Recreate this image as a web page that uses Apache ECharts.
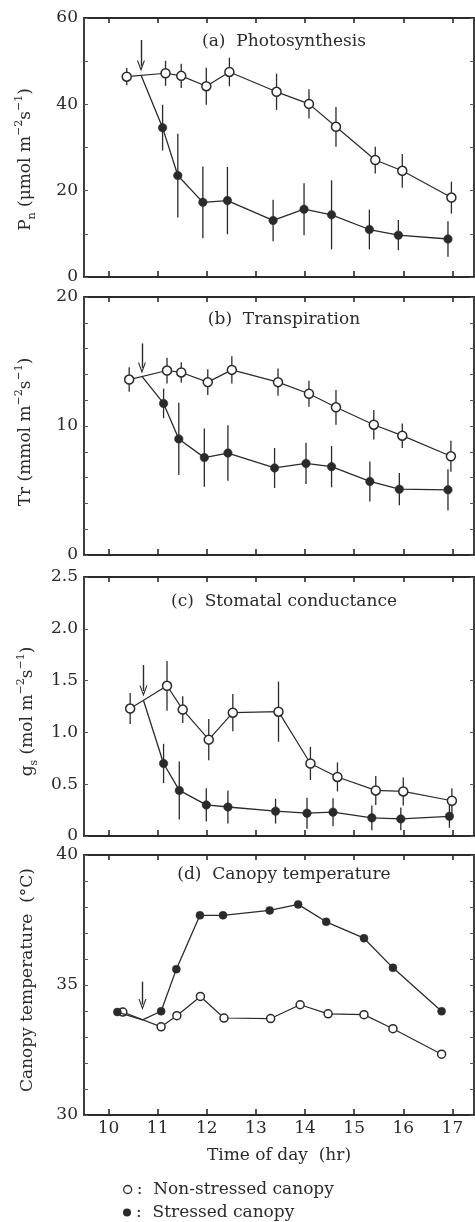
<!DOCTYPE html>
<html><head><meta charset="utf-8">
<script src="https://cdn.jsdelivr.net/npm/echarts@6/dist/echarts.min.js"></script>
<style>html,body{margin:0;padding:0;background:#fff}#c{width:475px;height:1222px}</style>
</head><body><div id="c"></div>
<script>
// ---------- data ----------
const xTicks = [10, 11, 12, 13, 14, 15, 16, 17];
const xLabels = [10, 11, 12, 13, 14, 15, 16, 17];

// (a) Photosynthesis
const nsXa = [10.37, 11.16, 11.48, 11.99, 12.46, 13.42, 14.08, 14.63, 15.43, 15.98, 16.98];
const nsYa = [46.4, 47.2, 46.6, 44.2, 47.5, 42.9, 40.1, 34.8, 27.1, 24.6, 18.4];
const nsEa = [2.0, 2.9, 2.8, 4.3, 3.3, 4.2, 3.4, 4.6, 3.1, 3.9, 3.7];
const stXa = [11.10, 11.41, 11.92, 12.42, 13.35, 13.98, 14.54, 15.31, 15.90, 16.91];
const stYa = [34.6, 23.5, 17.3, 17.7, 13.1, 15.7, 14.4, 11.0, 9.7, 8.8];
const stEa = [5.3, 9.7, 8.3, 7.8, 4.8, 6.0, 8.0, 4.6, 3.5, 4.1];
const yTicksA = [0, 10, 20, 30, 40, 50, 60];
const yLabelsA = [0, 20, 40, 60];

// (b) Transpiration
const nsXb = [10.42, 11.19, 11.48, 12.02, 12.51, 13.45, 14.08, 14.63, 15.40, 15.98, 16.97];
const nsYb = [13.6, 14.3, 14.15, 13.4, 14.35, 13.4, 12.5, 11.45, 10.1, 9.25, 7.65];
const nsEb = [0.95, 1.0, 0.8, 1.0, 1.05, 1.05, 1.0, 1.35, 1.15, 0.95, 1.2];
const stXb = [11.12, 11.43, 11.95, 12.43, 13.38, 14.02, 14.54, 15.32, 15.92, 16.91];
const stYb = [11.75, 9.0, 7.55, 7.9, 6.75, 7.1, 6.85, 5.7, 5.1, 5.05];
const stEb = [1.15, 2.8, 2.25, 2.15, 1.55, 1.6, 1.6, 1.55, 1.25, 1.6];
const yTicksB = [0, 2, 4, 6, 8, 10, 12, 14, 16, 18, 20];
const yLabelsB = [0, 10, 20];

// (c) Stomatal conductance
const nsXc = [10.44, 11.19, 11.51, 12.04, 12.53, 13.46, 14.11, 14.66, 15.44, 16.00, 16.99];
const nsYc = [1.23, 1.45, 1.22, 0.93, 1.19, 1.20, 0.70, 0.57, 0.44, 0.43, 0.34];
const nsEc = [0.15, 0.24, 0.13, 0.20, 0.18, 0.29, 0.16, 0.14, 0.14, 0.135, 0.12];
const stXc = [11.12, 11.44, 11.99, 12.43, 13.40, 14.04, 14.57, 15.36, 15.95, 16.94];
const stYc = [0.70, 0.44, 0.30, 0.28, 0.24, 0.22, 0.23, 0.175, 0.165, 0.19];
const stEc = [0.19, 0.28, 0.16, 0.16, 0.12, 0.15, 0.135, 0.12, 0.11, 0.11];
const yTicksC = [0, 0.5, 1.0, 1.5, 2.0, 2.5];
const yLabelsC = [0, 0.5, 1.0, 1.5, 2.0, 2.5];

// (d) Canopy temperature
const nsXd = [10.29, 11.07, 11.39, 11.87, 12.35, 13.30, 13.90, 14.47, 15.20, 15.79, 16.78];
const nsYd = [33.96, 33.39, 33.82, 34.56, 33.73, 33.71, 34.24, 33.89, 33.86, 33.32, 32.34];
const stXd = [10.18, 11.07, 11.38, 11.86, 12.33, 13.28, 13.86, 14.43, 15.20, 15.79, 16.78];
const stYd = [33.96, 33.99, 35.61, 37.68, 37.68, 37.87, 38.10, 37.43, 36.80, 35.66, 33.99];
const yTicksD = [30, 31, 32, 33, 34, 35, 36, 37, 38, 39, 40];
const yLabelsD = [30, 35, 40];

// stress onset (arrow) and junction point where the stressed line branches off
const arrowX = [10.66, 10.68, 10.71, 10.69];
const arrowTop = [54.9, 16.4, 1.65, 35.13];
const arrowTip = [48.9, 14.5, 1.40, 34.25];
const junctionY = [46.8, 13.85, 1.31, 33.66];

const titles = ['(a)  Photosynthesis', '(b)  Transpiration', '(c)  Stomatal conductance', '(d)  Canopy temperature'];
const seriesNames = ['Non-stressed canopy', 'Stressed canopy'];

// ---------- layout / style ----------
const FONT = 'DejaVu Serif';
const INK = '#2a2a2a';
const grids = [
  {left: 84, right: 1, top: 18, height: 259},
  {left: 84, right: 1, top: 297, height: 258},
  {left: 84, right: 1, top: 577, height: 259},
  {left: 84, right: 1, top: 855, height: 260}
];
const titleTop = [33, 311, 593, 866];
const yRange = [[0, 60], [0, 20], [0, 2.5], [30, 40]];
const yTickSets = [yTicksA, yTicksB, yTicksC, yTicksD];
const yLabelSets = [yLabelsA, yLabelsB, yLabelsC, yLabelsD];
const yFmt = [v => String(v), v => String(v), v => (v === 0 ? '0' : v.toFixed(1)), v => String(v)];
const yNames = [
  '{n|P}{sub|n}{n| (μmol m}{sup|−2}{n|s}{sup|−1}{n|)}',
  '{n|Tr (mmol m}{sup|−2}{n|s}{sup|−1}{n|)}',
  '{n|g}{sub|s}{n| (mol m}{sup|−2}{n|s}{sup|−1}{n|)}',
  '{n|Canopy temperature  (°C)}'
];
const yNameGap = [46, 46, 40, 44];
const yNamePad = [[0, 24, 0, 0], [0, 12, 0, 0], [0, 10, 0, 0], [0, 0, 0, 10]];
const richStyles = {
  n: {fontFamily: FONT, fontSize: 17, lineHeight: 24, color: INK},
  sub: {fontFamily: FONT, fontSize: 11, lineHeight: 11, verticalAlign: 'bottom', color: INK},
  sup: {fontFamily: FONT, fontSize: 11, lineHeight: 11, verticalAlign: 'top', color: INK}
};

const NS = [[nsXa, nsYa, nsEa], [nsXb, nsYb, nsEb], [nsXc, nsYc, nsEc], [nsXd, nsYd, null]];
const ST = [[stXa, stYa, stEa], [stXb, stYb, stEb], [stXc, stYc, stEc], [stXd, stYd, null]];

const ARROW = 'path://M5,0 L10,10 L8.6,10 L5,3 L1.4,10 L0,10 Z';

const xAxes = [], yAxes = [], series = [], titleOpts = [];
const lineAxis = {show: true, onZero: false, lineStyle: {color: INK, width: 1.8}};

function errRender(params, api) {
  const x = api.value(0);
  const p1 = api.coord([x, api.value(1)]);
  const p2 = api.coord([x, api.value(2)]);
  return {type: 'line', shape: {x1: p1[0], y1: p1[1], x2: p2[0], y2: p2[1]},
          style: {stroke: INK, lineWidth: 1.3}};
}

for (let i = 0; i < 4; i++) {
  const last = i === 3;
  xAxes.push({
    type: 'value', gridIndex: i, position: 'bottom', min: 9.5, max: 17.44,
    axisLine: lineAxis,
    axisTick: {show: true, inside: true, length: 6, customValues: xTicks, lineStyle: {color: INK, width: 1.6}},
    axisLabel: {show: last, customValues: xLabels, margin: 5, fontFamily: FONT, fontSize: 17, color: INK},
    splitLine: {show: false},
    name: last ? 'Time of day  (hr)' : '', nameLocation: 'middle', nameGap: 32,
    nameTextStyle: {fontFamily: FONT, fontSize: 17, color: INK}
  });
  xAxes.push({
    type: 'value', gridIndex: i, position: 'top', min: 9.5, max: 17.44,
    axisLine: lineAxis,
    axisTick: {show: true, inside: true, length: 5, customValues: xTicks, lineStyle: {color: INK, width: 1.6}},
    axisLabel: {show: false}, splitLine: {show: false}
  });
  yAxes.push({
    type: 'value', gridIndex: i, position: 'left', min: yRange[i][0], max: yRange[i][1],
    axisLine: lineAxis,
    axisTick: {show: true, inside: true, length: 4, customValues: yTickSets[i], lineStyle: {color: '#555', width: 1}},
    axisLabel: {show: true, customValues: yLabelSets[i], formatter: yFmt[i], margin: 6,
                fontFamily: FONT, fontSize: 17, color: INK},
    splitLine: {show: false},
    name: yNames[i], nameLocation: 'middle', nameGap: yNameGap[i], nameRotate: 90,
    nameTextStyle: {fontFamily: FONT, fontSize: 17, color: INK, lineHeight: 24, padding: yNamePad[i], rich: richStyles}
  });
  yAxes.push({
    type: 'value', gridIndex: i, position: 'right', min: yRange[i][0], max: yRange[i][1],
    axisLine: lineAxis,
    axisTick: {show: true, inside: true, length: 4, customValues: yTickSets[i], lineStyle: {color: '#555', width: 1}},
    axisLabel: {show: false}, splitLine: {show: false}
  });
  titleOpts.push({
    text: titles[i], left: 284, top: titleTop[i], textAlign: 'center', padding: 0,
    textStyle: {fontFamily: FONT, fontSize: 17, fontWeight: 'normal', color: INK}
  });

  const xi = i * 2, yi = i * 2;
  const [nx, ny, ne] = NS[i];
  const [sx, sy, se] = ST[i];
  const symSize = last ? 8 : 9;

  if (ne) {
    series.push({type: 'custom', name: 'err-ns-' + i, xAxisIndex: xi, yAxisIndex: yi, silent: true, z: 1,
      renderItem: errRender, encode: {x: 0, y: [1, 2]},
      data: nx.map((x, k) => [x, ny[k] - ne[k], ny[k] + ne[k]])});
    series.push({type: 'custom', name: 'err-st-' + i, xAxisIndex: xi, yAxisIndex: yi, silent: true, z: 1,
      renderItem: errRender, encode: {x: 0, y: [1, 2]},
      data: sx.map((x, k) => [x, sy[k] - se[k], sy[k] + se[k]])});
  }

  series.push({
    type: 'line', name: seriesNames[0], xAxisIndex: xi, yAxisIndex: yi, z: 3,
    symbol: 'circle', symbolSize: symSize,
    itemStyle: {color: '#fff', borderColor: INK, borderWidth: 1.5},
    lineStyle: {color: INK, width: 1.2},
    data: nx.map((x, k) => [x, ny[k]])
  });

  // stressed: branches from junction on the shared line at the arrow
  const jPt = {value: [arrowX[i], junctionY[i]], symbol: 'none'};
  let sData = sx.map((x, k) => [x, sy[k]]);
  if (last) sData = [sData[0], jPt].concat(sData.slice(1));
  else sData = [jPt].concat(sData);
  series.push({
    type: 'line', name: seriesNames[1], xAxisIndex: xi, yAxisIndex: yi, z: 4,
    symbol: 'circle', symbolSize: last ? 8 : 8.5,
    itemStyle: {color: INK, borderColor: INK, borderWidth: 0.5},
    lineStyle: {color: INK, width: 1.3},
    data: sData,
    markLine: {
      silent: true, animation: false, symbol: ['none', ARROW], symbolSize: [8, 11],
      label: {show: false},
      lineStyle: {color: INK, width: 1.4, type: 'solid'},
      data: [[{coord: [arrowX[i], arrowTop[i]]}, {coord: [arrowX[i], arrowTip[i]]}]]
    }
  });
}

const legendBase = {
  orient: 'vertical', left: 123, itemWidth: 8, itemHeight: 8, padding: 0,
  selectedMode: false,
  formatter: n => ':  ' + n,
  textStyle: {fontFamily: FONT, fontSize: 17, color: INK}
};

const chart = echarts.init(document.getElementById('c'), null, {renderer: 'canvas'});
chart.setOption({
  backgroundColor: '#fff',
  animation: false,
  title: titleOpts,
  grid: grids,
  xAxis: xAxes,
  yAxis: yAxes,
  legend: [
    Object.assign({}, legendBase, {top: 1181,
      data: [{name: seriesNames[0], icon: 'circle', itemStyle: {color: '#fff', borderColor: INK, borderWidth: 1.3}}]}),
    Object.assign({}, legendBase, {top: 1204,
      data: [{name: seriesNames[1], icon: 'circle', itemStyle: {color: INK, borderWidth: 0}}]})
  ],
  series: series
});
</script></body></html>
